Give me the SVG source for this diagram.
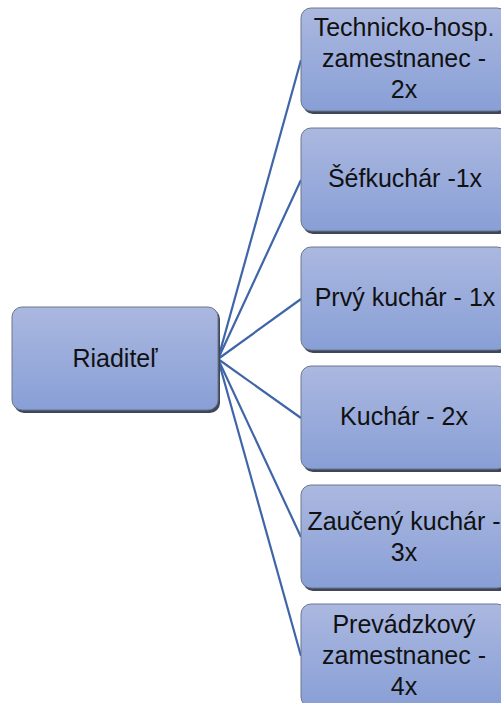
<svg xmlns="http://www.w3.org/2000/svg" width="501" height="703" viewBox="0 0 501 703">
<defs>
<linearGradient id="g" x1="0" y1="0" x2="0" y2="1">
<stop offset="0" stop-color="#abb8e0"/>
<stop offset="1" stop-color="#889fd6"/>
</linearGradient>
<style>
.sh{fill:#3f4658}
.bx{fill:url(#g);stroke:#6d778c;stroke-width:1}
.t{font-family:"Liberation Sans",Arial,sans-serif;font-size:25px;fill:#111111;text-anchor:middle}
.c{stroke:#3f65a8;stroke-width:2.2;fill:none}
</style>
</defs>
<rect width="501" height="703" fill="#ffffff"/>
<g id="connectors">
<line class="c" x1="218" y1="359" x2="301" y2="60"/>
<line class="c" x1="218" y1="359" x2="301" y2="180"/>
<line class="c" x1="218" y1="359" x2="301" y2="299"/>
<line class="c" x1="218" y1="359" x2="301" y2="418"/>
<line class="c" x1="218" y1="359" x2="301" y2="537"/>
<line class="c" x1="218" y1="359" x2="301" y2="656"/>
</g>
<g id="n0">
<rect class="sh" x="14" y="309" width="206" height="104" rx="10"/>
<rect class="bx" x="12" y="307" width="206" height="103" rx="10"/>
<text class="t" x="115" y="367">Riaditeľ</text>
</g>
<g id="n1">
<rect class="sh" x="303" y="10" width="206" height="104" rx="10"/>
<rect class="bx" x="301" y="8" width="206" height="103" rx="10"/>
<text class="t" x="404" y="36">Technicko-hosp.</text>
<text class="t" x="404" y="67">zamestnanec -</text>
<text class="t" x="404" y="98">2x</text>
</g>
<g id="n2">
<rect class="sh" x="303" y="130" width="206" height="104" rx="10"/>
<rect class="bx" x="301" y="128" width="206" height="103" rx="10"/>
<text class="t" x="405" y="187">Šéfkuchár -1x</text>
</g>
<g id="n3">
<rect class="sh" x="303" y="249" width="206" height="104" rx="10"/>
<rect class="bx" x="301" y="247" width="206" height="103" rx="10"/>
<text class="t" x="405" y="306">Prvý kuchár - 1x</text>
</g>
<g id="n4">
<rect class="sh" x="303" y="368" width="206" height="104" rx="10"/>
<rect class="bx" x="301" y="366" width="206" height="103" rx="10"/>
<text class="t" x="404" y="425">Kuchár - 2x</text>
</g>
<g id="n5">
<rect class="sh" x="303" y="487" width="206" height="104" rx="10"/>
<rect class="bx" x="301" y="485" width="206" height="103" rx="10"/>
<text class="t" x="404" y="530">Zaučený kuchár -</text>
<text class="t" x="404" y="561">3x</text>
</g>
<g id="n6">
<rect class="sh" x="303" y="606" width="206" height="104" rx="10"/>
<rect class="bx" x="301" y="604" width="206" height="103" rx="10"/>
<text class="t" x="404" y="633">Prevádzkový</text>
<text class="t" x="404" y="664">zamestnanec -</text>
<text class="t" x="404" y="695">4x</text>
</g>
</svg>
